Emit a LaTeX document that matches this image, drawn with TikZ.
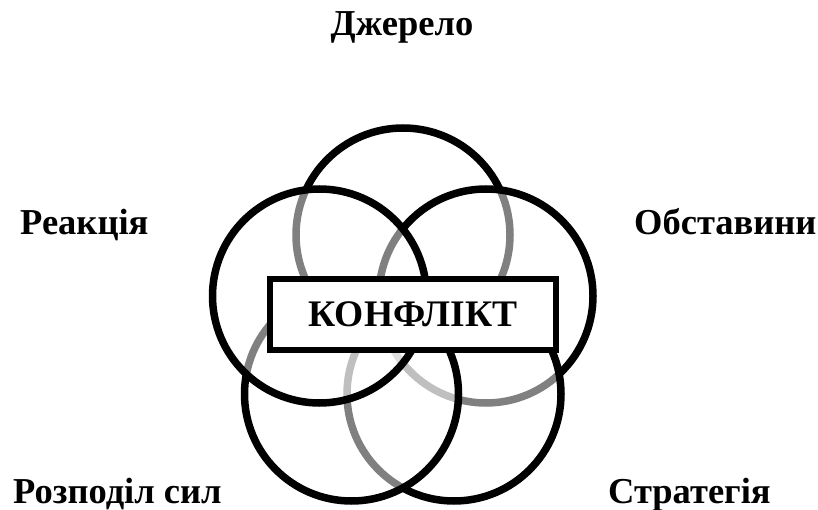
\documentclass[tikz,border=0pt]{standalone}
\usepackage{fontspec}
\setmainfont{Liberation Serif}
\begin{document}
\begin{tikzpicture}[x=1pt,y=-1pt,
  ring/.style={circle,minimum size=214pt,inner sep=0pt,draw=black,line width=7.5pt,fill=white,fill opacity=0.5,draw opacity=1},
  lbl/.style={font=\bfseries\fontsize{36.5}{42}\selectfont,inner sep=0pt},
  centerbox/.style={draw=black,line width=6pt,fill=white,minimum width=286pt,minimum height=71pt,inner sep=0pt,
    font=\bfseries\fontsize{37.5}{42}\selectfont}]
\useasboundingbox (0,0) rectangle (818,510);
% circles, drawn in stacking order
\node[ring] (top) at (403,235) {};
\node[ring] (right) at (486,296) {};
\node[ring] (bright) at (454,394) {};
\node[ring] (bleft) at (351.5,394) {};
\node[ring] (left) at (319.5,296) {};
% centre box
\node[centerbox] (conf) at (413,314.5) {КОНФЛІКТ};
% labels
\node[lbl,anchor=base] (l1) at (402,36) {Джерело};
\node[lbl,anchor=base west] (l2) at (20,235) {Реакція};
\node[lbl,anchor=base west] (l3) at (634,235) {Обставини};
\node[lbl,anchor=base west] (l4) at (13,503) {Розподіл сил};
\node[lbl,anchor=base west] (l5) at (608,503) {Стратегія};
\end{tikzpicture}
\end{document}
